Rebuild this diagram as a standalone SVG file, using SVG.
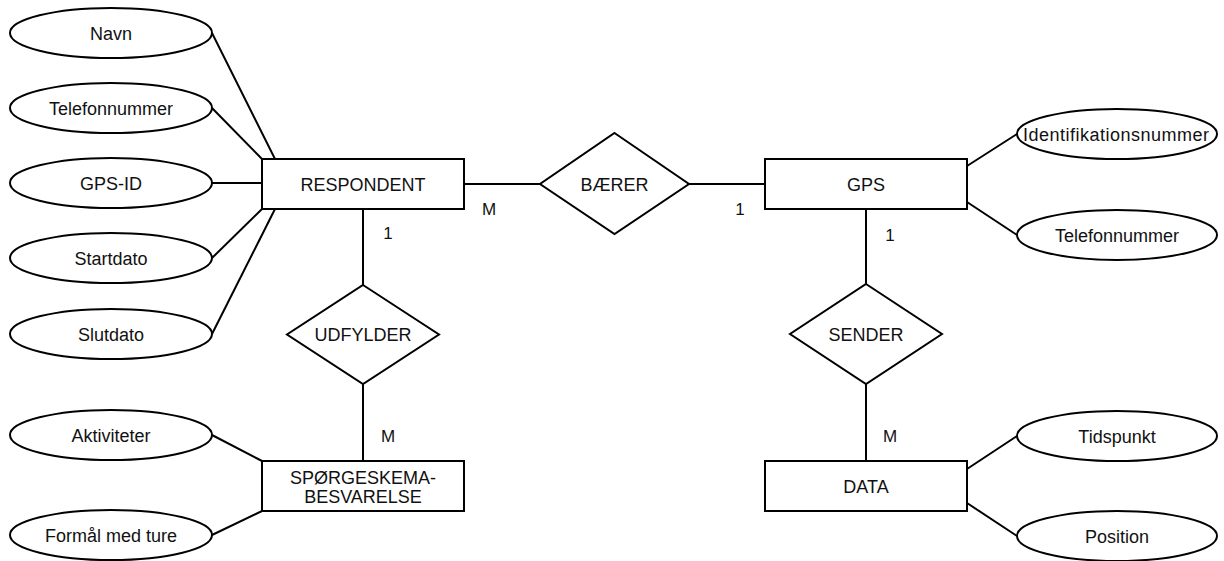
<svg xmlns="http://www.w3.org/2000/svg" width="1224" height="561" viewBox="0 0 1224 561">
<style>
.s{fill:#fff;stroke:#000;stroke-width:2}
.c line{stroke:#000;stroke-width:2}
text{font-family:"Liberation Sans",Arial,sans-serif;font-size:18px;fill:#111;text-anchor:middle}
.lbl{font-size:17px}
</style>
<rect width="1224" height="561" fill="#fff"/>
<g class="c" id="connectors">
<line x1="212" y1="33" x2="275" y2="159"/>
<line x1="212" y1="108" x2="262" y2="159"/>
<line x1="212" y1="183" x2="262" y2="183"/>
<line x1="212" y1="258" x2="262" y2="209"/>
<line x1="212" y1="334" x2="275" y2="209"/>
<line x1="363" y1="209" x2="363" y2="285"/>
<line x1="363" y1="384" x2="363" y2="461"/>
<line x1="212" y1="435" x2="262" y2="461"/>
<line x1="212" y1="535" x2="262" y2="511"/>
<line x1="464" y1="184" x2="540" y2="184"/>
<line x1="689" y1="184" x2="765" y2="184"/>
<line x1="967" y1="166" x2="1017" y2="134"/>
<line x1="967" y1="202" x2="1017" y2="235"/>
<line x1="866" y1="209" x2="866" y2="284"/>
<line x1="866" y1="384" x2="866" y2="461"/>
<line x1="967" y1="469" x2="1017" y2="436"/>
<line x1="967" y1="503" x2="1017" y2="536"/>
<text class="lbl" x="388" y="239">1</text>
<text class="lbl" x="388" y="442">M</text>
<text class="lbl" x="489" y="215">M</text>
<text class="lbl" x="740" y="215">1</text>
<text class="lbl" x="890" y="241">1</text>
<text class="lbl" x="890" y="442">M</text>
</g>
<g id="navn"><ellipse class="s" cx="111" cy="33" rx="101" ry="25"/><text x="111" y="39.5">Navn</text></g>
<g id="telefon1"><ellipse class="s" cx="111" cy="108" rx="101" ry="25"/><text x="111" y="114.5">Telefonnummer</text></g>
<g id="gpsid"><ellipse class="s" cx="111" cy="183" rx="101" ry="25"/><text x="111" y="189.5">GPS-ID</text></g>
<g id="startdato"><ellipse class="s" cx="111" cy="258" rx="101" ry="25"/><text x="111" y="264.5">Startdato</text></g>
<g id="slutdato"><ellipse class="s" cx="111" cy="334" rx="101" ry="25"/><text x="111" y="340.5">Slutdato</text></g>
<g id="aktiviteter"><ellipse class="s" cx="111" cy="435" rx="101" ry="25"/><text x="111" y="441.5">Aktiviteter</text></g>
<g id="formaal"><ellipse class="s" cx="111" cy="535" rx="101" ry="25"/><text x="111" y="541.5">Formål med ture</text></g>
<g id="respondent"><rect class="s" x="262" y="159" width="202" height="50"/><text x="363" y="190.5">RESPONDENT</text></g>
<g id="udfylder"><polygon class="s" points="363,285 439,334.5 363,384 287,334.5"/><text x="363" y="341">UDFYLDER</text></g>
<g id="spoergeskema"><rect class="s" x="262" y="461" width="202" height="50"/><text x="363" y="483.5">SPØRGESKEMA-</text><text x="363" y="502.5">BESVARELSE</text></g>
<g id="baerer"><polygon class="s" points="614.5,133 689,184 614.5,234 540,184"/><text x="614.5" y="190.5">BÆRER</text></g>
<g id="gps"><rect class="s" x="765" y="159" width="202" height="50"/><text x="866" y="190.5">GPS</text></g>
<g id="ident"><ellipse class="s" cx="1117" cy="134" rx="100" ry="25"/><text x="1116" y="140.5" textLength="186">Identifikationsnummer</text></g>
<g id="telefon2"><ellipse class="s" cx="1117" cy="235" rx="100" ry="25"/><text x="1117" y="241.5">Telefonnummer</text></g>
<g id="sender"><polygon class="s" points="866,284 942,334 866,384 790,334"/><text x="866" y="340.5">SENDER</text></g>
<g id="data"><rect class="s" x="765" y="461" width="202" height="50"/><text x="866" y="492.5">DATA</text></g>
<g id="tidspunkt"><ellipse class="s" cx="1117" cy="436" rx="100" ry="25"/><text x="1117" y="442.5">Tidspunkt</text></g>
<g id="position"><ellipse class="s" cx="1117" cy="536" rx="100" ry="25"/><text x="1117" y="542.5">Position</text></g>
</svg>
